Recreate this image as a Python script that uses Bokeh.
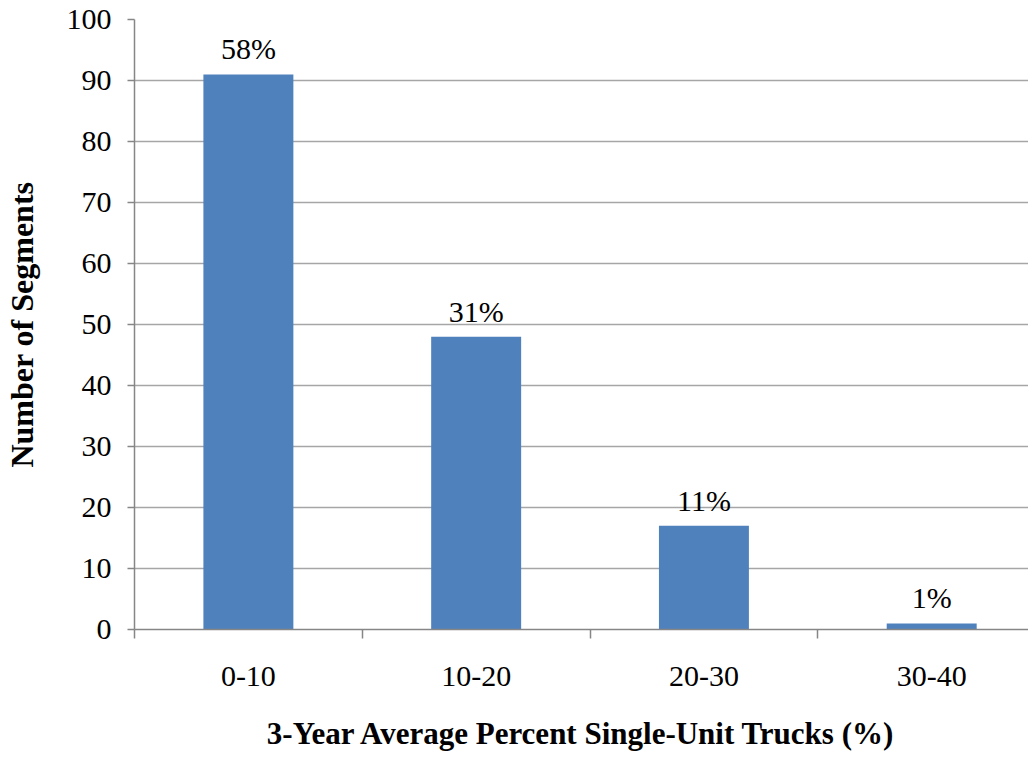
from bokeh.plotting import figure
from bokeh.models import ColumnDataSource, FixedTicker, Range1d, LinearAxis
from bokeh.embed import file_html
from bokeh.resources import INLINE
from bokeh.core.properties import value

categories = ["0-10", "10-20", "20-30", "30-40"]
counts = [91, 48, 17, 1]
pct_labels = ["58%", "31%", "11%", "1%"]
x_title = "3-Year Average Percent Single-Unit Trucks (%)"
y_title = "Number of Segments"

xpos = [i + 0.5 for i in range(len(categories))]
src = ColumnDataSource(dict(x=xpos, top=counts, lab=pct_labels))

FONT = "Liberation Serif"
GRID = "#a6a6a6"
AX = "#868686"

p = figure(width=1028, height=753, output_backend="svg", toolbar_location=None,
           x_range=Range1d(0, 3.925), y_range=Range1d(0, 100),
           min_border_left=133, min_border_right=0, min_border_top=19,
           min_border_bottom=124, x_axis_location=None, y_axis_location=None)
p.outline_line_color = None
p.background_fill_color = "white"
p.border_fill_color = "white"

p.vbar(x="x", top="top", width=0.395, bottom=0, source=src,
       fill_color="#4F81BD", line_color=None)

p.text(x="x", y="top", text="lab", source=src, text_align="center",
       text_baseline="bottom", y_offset=-9, text_font=value(FONT),
       text_font_size="30px", text_color="black")

# y axis
ya = LinearAxis(ticker=FixedTicker(ticks=list(range(0, 101, 10))))
ya.axis_line_color = AX
ya.axis_line_width = 1.5
ya.major_tick_line_color = AX
ya.major_tick_line_width = 1.5
ya.major_tick_in = 0
ya.major_tick_out = 7
ya.minor_tick_line_color = None
ya.major_label_text_font = FONT
ya.major_label_text_font_size = "30px"
ya.major_label_text_color = "black"
ya.major_label_standoff = 16
ya.axis_label = y_title
ya.axis_label_text_font = FONT
ya.axis_label_text_font_style = "bold"
ya.axis_label_text_font_size = "32px"
ya.axis_label_text_color = "black"
ya.axis_label_standoff = 24
p.add_layout(ya, "left")

# x axis
xa = LinearAxis(ticker=FixedTicker(ticks=xpos, minor_ticks=[0, 1, 2, 3, 4]))
xa.major_label_overrides = {x: c for x, c in zip(xpos, categories)}
xa.axis_line_color = AX
xa.axis_line_width = 1.5
xa.major_tick_line_color = None
xa.minor_tick_line_color = AX
xa.minor_tick_line_width = 1.5
xa.minor_tick_in = 0
xa.minor_tick_out = 9
xa.major_label_text_font = FONT
xa.major_label_text_font_size = "30px"
xa.major_label_text_color = "black"
xa.major_label_standoff = 28
xa.axis_label = x_title
xa.axis_label_text_font = FONT
xa.axis_label_text_font_style = "bold"
xa.axis_label_text_font_size = "31px"
xa.axis_label_text_color = "black"
xa.axis_label_standoff = 27
p.add_layout(xa, "below")

p.xgrid.visible = False
p.ygrid.ticker = FixedTicker(ticks=list(range(10, 101, 10)))
p.ygrid.grid_line_color = GRID
p.ygrid.grid_line_width = 1.5

open("out.html", "w").write(file_html(p, INLINE))
